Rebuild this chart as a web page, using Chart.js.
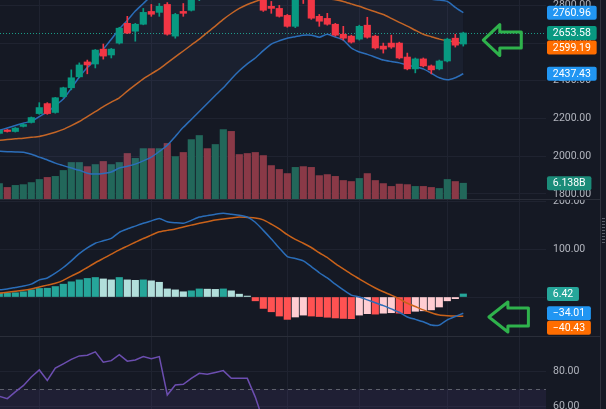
<!DOCTYPE html>
<html>
<head>
<meta charset="utf-8">
<script src="https://cdn.jsdelivr.net/npm/chart.js@4.4.0/dist/chart.umd.min.js"></script>
<style>
    html, body { margin: 0; padding: 0; background: #151924; overflow: hidden; }
    #wrap { position: relative; width: 606px; height: 409px; }
    canvas { position: absolute; left: 0; }
    .sep { position: absolute; left: 0; width: 600px; height: 1px; background: #2a2e39; }
    #edge { position: absolute; left: 600px; top: 0; width: 1px; height: 409px; background: #2e323d; }
    #grip { position: absolute; left: 602px; top: 218px; width: 3px; height: 27px;
            background: repeating-linear-gradient(to bottom, #5a5e69 0 1px, transparent 1px 3px); }
</style>
</head>
<body>
<div id="wrap">
    <canvas id="pricePane" width="606" height="199" style="top:0px"></canvas>
    <div class="sep" style="top:199px"></div>
    <canvas id="macdPane" width="606" height="136" style="top:200px"></canvas>
    <div class="sep" style="top:336px"></div>
    <canvas id="rsiPane" width="606" height="72" style="top:337px"></canvas>
    <div id="edge"></div>
    <div id="grip"></div>
</div>
<script>
// dados (59 candles)
const candleOpen = [2121,2139,2131,2158,2179,2226,2279,2232,2316,2363,
    2421,2500,2489,2568,2537,2600,2705,2663,2700,2768,
    2763,2805,2637,2768,2774,2832,2880,2862,2905,2962,
    2915,2892,2862,2838,2795,2784,2747,2689,2850,2830,
    2742,2731,2700,2647,2637,2621,2695,2637,2584,2600,
    2600,2526,2463,2516,2479,2463,2505,2626,2595];
const candleHigh = [2142,2142,2152,2172,2208,2284,2284,2312,2366,2458,
    2495,2510,2566,2595,2572,2684,2742,2705,2784,2805,
    2810,2815,2758,2810,2845,2895,2900,2915,2985,2975,
    2930,2905,2878,2845,2821,2800,2752,2850,2862,2840,
    2752,2758,2705,2689,2642,2695,2737,2642,2600,2642,
    2605,2547,2521,2521,2484,2510,2626,2647,2658];
const candleLow = [2116,2128,2128,2155,2176,2222,2222,2228,2312,2352,
    2416,2437,2468,2515,2521,2595,2650,2610,2697,2742,
    2742,2642,2626,2742,2770,2825,2850,2855,2898,2905,
    2880,2850,2830,2768,2758,2738,2684,2682,2810,2726,
    2689,2695,2637,2616,2600,2616,2626,2568,2547,2572,
    2516,2458,2442,2474,2437,2458,2500,2579,2584];
const candleClose = [2137,2131,2149,2168,2205,2258,2226,2310,2363,2416,
    2484,2484,2563,2531,2568,2679,2653,2700,2763,2753,
    2795,2647,2752,2758,2830,2880,2862,2905,2965,2915,
    2892,2862,2840,2774,2784,2742,2689,2840,2832,2732,
    2716,2700,2642,2626,2605,2689,2631,2574,2568,2579,
    2521,2463,2516,2479,2458,2505,2621,2589,2653.58];
const volumeB = [6.0,4.5,5.3,5.6,6.4,7.6,8.4,8.8,11.1,14.2,
    14.2,12.6,13.4,14.6,13.4,14.2,17.7,15.8,19.6,19.6,
    19.6,21.6,16.5,18.1,23.1,24.7,19.6,21.2,27.0,26.3,
    17.3,17.7,18.1,16.9,13.0,11.5,9.9,12.3,12.6,12.3,
    9.1,9.5,8.8,7.2,6.8,8.0,9.9,7.2,6.0,4.9,
    5.8,5.6,4.9,4.9,4.5,4.1,7.6,6.8,6.138];
const bbUpper = [2137,2150,2163,2175,2186,2210,2235,2268,2303,2360,
    2420,2470,2512,2568,2620,2675,2720,2770,2810,2850,
    2885,2905,2930,2960,2985,3005,3030,3055,3080,3100,
    3115,3120,3122,3120,3115,3105,3094,3090,3085,3078,
    3070,3062,3055,3048,3042,3037,3010,2985,2960,2940,
    2925,2895,2865,2840,2833,2828,2821,2790,2760.96];
const bbBasis = [2084,2088,2092,2095,2100,2105,2115,2127,2142,2162,
    2184,2210,2236,2263,2287,2310,2345,2378,2410,2437,
    2463,2495,2527,2558,2590,2621,2656,2690,2726,2757,
    2784,2805,2821,2835,2848,2856,2860,2862,2858,2850,
    2842,2835,2830,2821,2808,2795,2780,2766,2752,2731,
    2710,2690,2668,2647,2634,2621,2612,2605,2599.19];
const bbLower = [2026,2024,2022,2021,2010,1995,1980,1963,1950,1937,
    1925,1910,1905,1908,1916,1937,1947,1958,1975,1995,
    2025,2058,2105,2153,2195,2237,2280,2322,2363,2410,
    2453,2490,2521,2560,2595,2612,2626,2634,2642,2642,
    2631,2647,2632,2616,2574,2553,2540,2525,2510,2502,
    2495,2484,2474,2463,2440,2416,2405,2416,2437.43];
const macdLine = [15,17,20,23,27,36,40,50,62,76,
    91,103,113,118,123,136,143,149,155,160,
    165,158,156,155,161,168,171,174,176,174,
    172,168,157,140,122,103,85,81,76,64,
    51,40,27,15,4,0,-6,-12,-18,-25,
    -32,-42,-47,-52,-59,-59,-48,-41,-34.01];
const macdSignal = [8,10,12,14,17,21,25,29,35,44,
    52,62,72,81,90,99,107,115,123,130,
    137,140,143,147,151,155,158,162,164,166,
    168,167,166,162,153,143,131,121,113,104,
    93,83,70,59,48,38,28,19,11,4,
    -4,-13,-20,-27,-33,-38,-39.5,-40,-40.43];
const macdHist = [8,8.5,9,11,15,18,18.5,22,27,32,
    36,39,41,38,36,41,36,35,36,34,
    31,17,15,11,13,17,16.5,16,17,13,
    6,2,-8,-24,-31,-40,-47,-42,-38,-40,
    -41,-42.5,-44,-45,-45.5,-38,-35,-36,-34,-33,
    -34,-35,-30,-29,-27,-21,-8,-3.5,6.42];
const rsiValues = [66,64.6,68.5,72,77,81,75,82,84.5,87,
    89,89.4,91.3,85.4,86.3,89.7,86,86.7,88.6,87.4,
    88.6,66.7,72.4,72.8,76.2,79.1,78.5,79.5,80.6,76.2,
    76.2,76.2,65.5,52,50,46,42,55,54,47,
    45,44,40,39,37,45,41,37,36,37,
    33,30,35,33,32,37,49,46,52];

const gridIdx = [5, 19, 36, 45, 56, 65];
const priceTicks = [1800, 2000, 2200, 2400, 2600, 2800];
const macdTicks = [0, 100, 200];
const rsiTicks = [60, 80];
const rsiBand = [30, 70];

const UP = '#089981';
const DOWN = '#f23645';
const BLUE = '#2a6db8';
const ORANGE = '#c9621a';
const GRID = '#1f2330';

Chart.defaults.font.family = 'Roboto, "Open Sans", sans-serif';
Chart.defaults.font.size = 10.5;
Chart.defaults.color = '#b2b5be';
Chart.defaults.animation = false;
Chart.defaults.plugins.legend.display = false;
Chart.defaults.plugins.tooltip.enabled = false;

const pts = arr => arr.map((v, i) => ({ x: i, y: v }));
const fmt = v => (v < 0 ? '\u2212' : '') + Math.abs(v).toFixed(2);
const isUp = candleClose.map((c, i) => c >= candleOpen[i]);

function xScale() {
    return {
        type: 'linear', min: 0.0875, max: 68.3375, offset: false,
        grid: { color: GRID, drawTicks: false, offset: false },
        border: { display: false },
        ticks: { display: false },
        afterBuildTicks: s => { s.ticks = gridIdx.map(v => ({ value: v })); },
        afterFit: s => { s.height = 0; }
    };
}

function yScale(min, max, ticks) {
    return {
        position: 'right', min: min, max: max,
        grid: { color: GRID, drawTicks: false },
        border: { display: false },
        ticks: { padding: 7, callback: v => v.toFixed(2) },
        afterBuildTicks: s => { s.ticks = ticks.map(v => ({ value: v })); },
        afterFit: s => { s.width = 60; s.paddingTop = 0; s.paddingBottom = 0; }
    };
}

// etiquetas coloridas no eixo, linha de preco, setas verdes, banda do RSI
function extras(cfg) {
    return {
        id: 'extras',
        beforeDatasetsDraw(chart) {
            const ctx = chart.ctx, a = chart.chartArea;
            ctx.save();
            if (cfg.band) {
                const y = chart.scales.y;
                const yTop = y.getPixelForValue(cfg.band[1]);
                const yBot = y.getPixelForValue(cfg.band[0]);
                ctx.fillStyle = 'rgba(126,87,194,0.10)';
                ctx.fillRect(a.left, yTop, a.right - a.left, yBot - yTop);
                ctx.strokeStyle = '#5d606b';
                ctx.setLineDash([4, 4]);
                ctx.lineWidth = 1;
                cfg.band.forEach(v => {
                    const py = Math.round(y.getPixelForValue(v)) + 0.5;
                    ctx.beginPath(); ctx.moveTo(a.left, py); ctx.lineTo(a.right, py); ctx.stroke();
                });
            }
            if (cfg.priceLine) {
                const py = Math.round(chart.scales.y.getPixelForValue(cfg.priceLine)) + 0.5;
                ctx.strokeStyle = '#1a9c86';
                ctx.setLineDash([1, 2]);
                ctx.lineWidth = 1;
                ctx.beginPath(); ctx.moveTo(a.left, py); ctx.lineTo(a.right, py); ctx.stroke();
            }
            ctx.restore();
        },
        afterDraw(chart) {
            const ctx = chart.ctx, a = chart.chartArea;
            ctx.save();
            const items = (cfg.tags || []).map(t => Object.assign({}, t, {
                py: chart.scales[t.axis].getPixelForValue(t.value)
            })).sort((p, q) => p.py - q.py);
            for (let k = 1; k < items.length; k++) {
                items[k].py = Math.max(items[k].py, items[k - 1].py + 14.5);
            }
            ctx.font = '10.5px Roboto';
            ctx.textBaseline = 'middle';
            items.forEach(t => {
                const w = ctx.measureText(t.text).width + 11.5;
                ctx.fillStyle = t.color;
                ctx.beginPath();
                ctx.roundRect(a.right + 1, t.py - 7, w, 14, 2);
                ctx.fill();
                ctx.fillStyle = '#ffffff';
                ctx.fillText(t.text, a.right + 6.75, t.py + 0.5);
            });
            (cfg.arrows || []).forEach(n => {
                const tx = chart.scales.x.getPixelForValue(n.idx);
                const ty = chart.scales.y.getPixelForValue(n.value);
                ctx.strokeStyle = '#2fb24c';
                ctx.lineWidth = 3;
                ctx.lineJoin = 'round';
                ctx.beginPath();
                ctx.moveTo(tx, ty);
                ctx.lineTo(tx + n.head, ty - n.headHalf);
                ctx.lineTo(tx + n.head, ty - n.shaftHalf);
                ctx.lineTo(tx + n.len, ty - n.shaftHalf);
                ctx.lineTo(tx + n.len, ty + n.shaftHalf);
                ctx.lineTo(tx + n.head, ty + n.shaftHalf);
                ctx.lineTo(tx + n.head, ty + n.headHalf);
                ctx.closePath();
                ctx.stroke();
            });
            ctx.restore();
        }
    };
}

const last = candleClose.length - 1;

// painel de preco: candles + bollinger + volume
new Chart(document.getElementById('pricePane'), {
    type: 'bar',
    data: {
        datasets: [
            {
                type: 'bar', label: 'corpo',
                data: candleOpen.map((o, i) => ({ x: i, y: [o, candleClose[i]] })),
                backgroundColor: isUp.map(u => u ? UP : DOWN),
                barThickness: 6.5, grouped: false, minBarLength: 1, borderWidth: 0
            },
            {
                type: 'bar', label: 'pavio',
                data: candleLow.map((l, i) => ({ x: i, y: [l, candleHigh[i]] })),
                backgroundColor: isUp.map(u => u ? UP : DOWN),
                barThickness: 1, grouped: false, borderWidth: 0
            },
            {
                type: 'line', label: 'Upper', data: pts(bbUpper),
                borderColor: BLUE, borderWidth: 1.5, pointRadius: 0, tension: 0.2,
                fill: '+2', backgroundColor: 'rgba(120,160,230,0.06)'
            },
            {
                type: 'line', label: 'Basis', data: pts(bbBasis),
                borderColor: ORANGE, borderWidth: 1.5, pointRadius: 0, tension: 0.2, fill: false
            },
            {
                type: 'line', label: 'Lower', data: pts(bbLower),
                borderColor: BLUE, borderWidth: 1.5, pointRadius: 0, tension: 0.2, fill: false
            },
            {
                type: 'bar', label: 'Volume', yAxisID: 'yVol',
                data: pts(volumeB),
                backgroundColor: isUp.map(u => u ? '#22675a' : '#8a3947'),
                barThickness: 6.5, grouped: false, borderWidth: 0
            }
        ]
    },
    options: {
        responsive: false,
        devicePixelRatio: 1,
        layout: { padding: 0 },
        scales: {
            x: xScale(),
            y: yScale(1772.9, 2828.6, priceTicks),
            yVol: { display: false, min: 0, max: 77.4 }
        }
    },
    plugins: [extras({
        priceLine: candleClose[last],
        tags: [
            { axis: 'y', value: bbUpper[last], text: fmt(bbUpper[last]), color: '#2196f3' },
            { axis: 'y', value: candleClose[last], text: fmt(candleClose[last]), color: UP },
            { axis: 'y', value: bbBasis[last], text: fmt(bbBasis[last]), color: '#ff6d00' },
            { axis: 'y', value: bbLower[last], text: fmt(bbLower[last]), color: '#2196f3' },
            { axis: 'yVol', value: volumeB[last], text: volumeB[last].toFixed(3) + 'B', color: '#1b8c79' }
        ],
        arrows: [{ idx: 60.5, value: 2616, head: 16.5, headHalf: 15.5, shaftHalf: 8, len: 38 }]
    })]
});

// painel MACD
const histColors = macdHist.map((v, i) => {
    const prev = i > 0 ? macdHist[i - 1] : -Infinity;
    if (v >= 0) return prev < v ? '#26a69a' : '#b2dfdb';
    return prev < v ? '#ffcdd2' : '#ff5252';
});

new Chart(document.getElementById('macdPane'), {
    type: 'bar',
    data: {
        datasets: [
            {
                type: 'line', label: 'MACD', data: pts(macdLine),
                borderColor: BLUE, borderWidth: 1.5, pointRadius: 0, tension: 0.2
            },
            {
                type: 'line', label: 'Signal', data: pts(macdSignal),
                borderColor: ORANGE, borderWidth: 1.5, pointRadius: 0, tension: 0.2
            },
            {
                type: 'bar', label: 'Histogram', data: pts(macdHist),
                backgroundColor: histColors, barThickness: 6.5, grouped: false, borderWidth: 0
            }
        ]
    },
    options: {
        responsive: false,
        devicePixelRatio: 1,
        layout: { padding: 0 },
        scales: { x: xScale(), y: yScale(-81.9, 203.8, macdTicks) }
    },
    plugins: [extras({
        tags: [
            { axis: 'y', value: macdHist[last], text: fmt(macdHist[last]), color: '#26a69a' },
            { axis: 'y', value: macdLine[last], text: fmt(macdLine[last]), color: '#2196f3' },
            { axis: 'y', value: macdSignal[last], text: fmt(macdSignal[last]), color: '#ff6d00' }
        ],
        arrows: [{ idx: 61.2, value: -42, head: 19, headHalf: 15, shaftHalf: 9, len: 39.5 }]
    })]
});

// painel RSI
new Chart(document.getElementById('rsiPane'), {
    type: 'line',
    data: {
        datasets: [{
            label: 'RSI', data: pts(rsiValues),
            borderColor: '#6c4eb0', borderWidth: 1.5, pointRadius: 0, tension: 0
        }]
    },
    options: {
        responsive: false,
        devicePixelRatio: 1,
        layout: { padding: 0 },
        scales: { x: xScale(), y: yScale(58.7, 99.8, rsiTicks) }
    },
    plugins: [extras({ band: rsiBand })]
});
</script>
</body>
</html>
